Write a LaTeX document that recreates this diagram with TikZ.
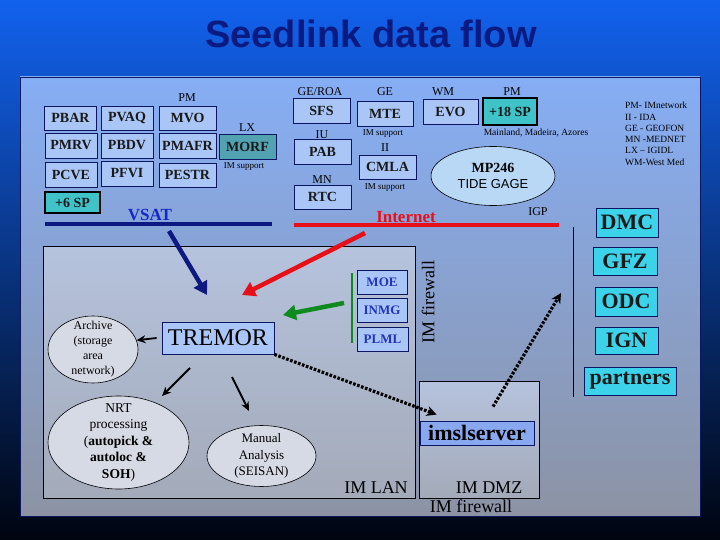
\documentclass[tikz,border=0pt]{standalone}
\usepackage{fontspec}
\setmainfont{Liberation Serif}
\setsansfont{Liberation Sans}
\usetikzlibrary{arrows.meta,shapes.geometric}
\definecolor{SlideTop}{HTML}{1262EE}
\definecolor{SlideMid}{HTML}{0838A8}
\definecolor{SlideBottom}{HTML}{00040F}
\definecolor{PanelTop}{HTML}{86AEF5}
\definecolor{PanelBottom}{HTML}{8C93A4}
\definecolor{LanTop}{HTML}{B6C3DD}
\definecolor{LanBottom}{HTML}{A3AAB9}
\definecolor{BoxBlue}{HTML}{A9C6F6}
\definecolor{MorfTeal}{HTML}{52A2B2}
\definecolor{SpTeal}{HTML}{3FC3C8}
\definecolor{PartCyan}{HTML}{3CD3EA}
\definecolor{ImslBlue}{HTML}{88A8F0}
\definecolor{TideBlue}{HTML}{B8D8F6}
\definecolor{OvalGray}{HTML}{D6DAE4}
\definecolor{MoeInk}{HTML}{2333B8}
\definecolor{Navy}{HTML}{0B1560}
\definecolor{VsatNavy}{HTML}{0D1880}
\definecolor{VsatText}{HTML}{1428C8}
\definecolor{NetRed}{HTML}{E81018}
\definecolor{LinkGreen}{HTML}{0E8A1E}
\definecolor{TitleInk}{HTML}{0A1A80}

\begin{document}
\begin{tikzpicture}[x=1pt,y=-1pt,
  stnbox/.style={draw=Navy,line width=0.8pt,fill=BoxBlue,inner sep=0pt,text=black!90,font=\fontsize{14}{16}\selectfont\bfseries},
  spbox/.style={stnbox,draw=black,line width=2.4pt,fill=SpTeal},
  tag/.style={inner sep=0pt,font=\fontsize{12}{13}\selectfont},
  note/.style={inner sep=0pt,font=\fontsize{9}{10}\selectfont},
  lanbox/.style={draw=Navy,line width=0.8pt,fill=BoxBlue,inner sep=0pt,text=MoeInk,font=\fontsize{13}{15}\selectfont\bfseries},
  partbox/.style={draw=Navy,line width=0.8pt,fill=PartCyan,inner sep=0pt,text=black!90,font=\fontsize{22}{24}\selectfont\bfseries},
  oval/.style={ellipse,draw=black,line width=0.6pt,fill=OvalGray,inner sep=0pt},
  ovaltext/.style={align=center,inner sep=0pt},
  zone/.style={draw=black,line width=0.8pt,top color=LanTop,bottom color=LanBottom},
  fatarrow/.style={line width=4.5pt,-{Triangle[length=13pt,width=15pt]}},
  thinarrow/.style={line width=1.8pt,-{Stealth[length=9pt,width=8pt]}},
  dotarrow/.style={line width=3.2pt,dash pattern=on 2.6pt off 1.6pt,-{Stealth[length=10pt,width=10pt]}}]
\useasboundingbox (0,0) rectangle (720,540);
\shade[top color=SlideTop,middle color=SlideMid,bottom color=SlideBottom] (0,0) rectangle (720,540);
\shadedraw[top color=PanelTop,bottom color=PanelBottom,draw=Navy,line width=0.8pt] (20,77) rectangle (700,516);
\node[anchor=base,text=TitleInk,font=\sffamily\bfseries\fontsize{38}{42}\selectfont] (title) at (371,48) {Seedlink data flow};

% zones
\shadedraw[zone] (43,246) rectangle (415,498);
\shadedraw[zone] (419,381) rectangle (539,498);
\node[anchor=base,inner sep=0pt,font=\fontsize{18}{20}\selectfont] (lanlabel) at (376,493) {IM LAN};
\node[anchor=base,inner sep=0pt,font=\fontsize{18}{20}\selectfont] (dmzlabel) at (489,493) {IM DMZ};
\node[anchor=base,inner sep=0pt,font=\fontsize{18}{20}\selectfont] (fwbottom) at (471,512) {IM firewall};
\node[rotate=90,inner sep=0pt,font=\fontsize{18}{20}\selectfont] (fwside) at (428,302) {IM firewall};

% left stations
\node[tag] (pmleft) at (187,98) {PM};
\node[stnbox,minimum width=52pt,minimum height=24pt] (pbar) at (70.5,118) {PBAR};
\node[stnbox,minimum width=52pt,minimum height=24pt] (pvaq) at (127,118) {PVAQ};
\node[stnbox,minimum width=57pt,minimum height=24pt] (mvo) at (187.5,118) {MVO};
\node[stnbox,minimum width=52pt,minimum height=25pt] (pmrv) at (71,145.5) {PMRV};
\node[stnbox,minimum width=52pt,minimum height=25pt] (pbdv) at (127,145.5) {PBDV};
\node[stnbox,minimum width=57pt,minimum height=25pt] (pmafr) at (187.5,145.5) {PMAFR};
\node[tag] (lx) at (247,128) {LX};
\node[stnbox,fill=MorfTeal,minimum width=57pt,minimum height=25pt] (morf) at (247.5,146.5) {MORF};
\node[note] (morfnote) at (244,167) {IM support};
\node[stnbox,minimum width=52pt,minimum height=25pt] (pcve) at (71,174.5) {PCVE};
\node[stnbox,minimum width=52pt,minimum height=25pt] (pfvi) at (127,173.5) {PFVI};
\node[stnbox,minimum width=57pt,minimum height=24pt] (pestr) at (187.5,175) {PESTR};
\node[spbox,minimum width=55pt,minimum height=21pt] (sixsp) at (72.5,202.5) {+6 SP};

% middle stations
\node[tag] (geroa) at (320,92) {GE/ROA};
\node[stnbox,minimum width=57pt,minimum height=25pt] (sfs) at (321.5,110.5) {SFS};
\node[tag] (iu) at (322,135) {IU};
\node[stnbox,minimum width=57pt,minimum height=25pt] (pab) at (322.5,151.5) {PAB};
\node[tag] (mn) at (322,180) {MN};
\node[stnbox,minimum width=57pt,minimum height=24pt] (rtc) at (322.5,197) {RTC};
\node[tag] (ge) at (385,92) {GE};
\node[stnbox,minimum width=56pt,minimum height=25pt] (mte) at (385,113.5) {MTE};
\node[note] (mtenote) at (383,134) {IM support};
\node[tag] (ii) at (385,148) {II};
\node[stnbox,minimum width=57pt,minimum height=24pt] (cmla) at (387.5,167) {CMLA};
\node[note] (cmlanote) at (385,188) {IM support};
\node[tag] (wm) at (443,92) {WM};
\node[stnbox,minimum width=55pt,minimum height=25pt] (evo) at (450.5,111.5) {EVO};
\node[tag] (pmright) at (512,92) {PM};
\node[spbox,minimum width=54pt,minimum height=27pt] (eighteensp) at (510,111.5) {+18 SP};
\node[note,font=\fontsize{9.5}{10}\selectfont] (islands) at (536,133) {Mainland, Madeira, Azores};
\node[oval,fill=TideBlue,minimum width=124pt,minimum height=59pt,align=center,font=\fontsize{14}{16}\selectfont] (tide) at (493,176) {\textbf{MP246}\\{\sffamily\fontsize{13}{15}\selectfont TIDE GAGE}};
\node[tag] (igp) at (538,212) {IGP};

% legend
\node[anchor=north west,align=left,inner sep=0pt,font=\fontsize{9.5}{11.3}\selectfont] (legend) at (625,102) {PM- IMnetwork\\II - IDA\\GE - GEOFON\\MN -MEDNET\\LX -- IGIDL\\WM-West Med};

% links
\node[inner sep=0pt,text=VsatText,font=\fontsize{17}{19}\selectfont\bfseries] (vsat) at (150,215) {VSAT};
\draw[VsatNavy,line width=4.5pt] (45,224) -- (272,224);
\node[inner sep=0pt,text=NetRed,font=\fontsize{17}{19}\selectfont\bfseries] (internet) at (406,217) {Internet};
\draw[NetRed,line width=4.5pt] (294,225) -- (559,225);
\draw[black,line width=0.8pt] (573,227) -- (573,397);

% partners
\node[partbox,minimum width=62pt,minimum height=29pt] (dmc) at (627,222.5) {DMC};
\node[partbox,minimum width=64pt,minimum height=28pt] (gfz) at (625,261) {GFZ};
\node[partbox,minimum width=62pt,minimum height=29pt] (odc) at (626,301.5) {ODC};
\node[partbox,minimum width=63pt,minimum height=27pt] (ign) at (626.5,340.5) {IGN};
\node[partbox,minimum width=92pt,minimum height=28pt] (partners) at (630,381) {partners};

% IM LAN
\node[lanbox,minimum width=50pt,minimum height=24pt] (moe) at (382,282) {MOE};
\node[lanbox,minimum width=50pt,minimum height=24pt] (inmg) at (382,310) {INMG};
\node[lanbox,minimum width=51pt,minimum height=24pt] (plml) at (382.5,339) {PLML};
\draw[LinkGreen,line width=2.5pt] (352,273) -- (352,343);
\node[draw=Navy,line width=0.8pt,fill=BoxBlue,inner sep=0pt,minimum width=112pt,minimum height=32pt,font=\fontsize{24}{26}\selectfont] (tremor) at (218,338) {TREMOR};
\node[oval,minimum width=90pt,minimum height=67pt,label={[ovaltext,font=\fontsize{12}{15}\selectfont]center:Archive\\(storage\\area\\network)}] (archive) at (93,349.5) {};
\node[oval,minimum width=141pt,minimum height=93pt,label={[ovaltext,font=\fontsize{13.5}{16.5}\selectfont]center:NRT\\processing\\(\textbf{autopick \&}\\\textbf{autoloc \&}\\\textbf{SOH})}] (nrt) at (118.5,442.5) {};
\node[oval,minimum width=109pt,minimum height=61pt,label={[ovaltext,font=\fontsize{13}{16.5}\selectfont]center:Manual\\Analysis\\(SEISAN)}] (manual) at (261.5,456) {};
\node[draw=Navy,line width=0.8pt,fill=ImslBlue,inner sep=0pt,minimum width=114pt,minimum height=24pt,font=\fontsize{22}{24}\selectfont\bfseries] (imsl) at (477,433) {imslserver};

% arrows
\coordinate (vsattail) at (169,231);
\coordinate (vsathead) at (207,295);
\coordinate (nettail) at (365,233);
\coordinate (nethead) at (242,295);
\coordinate (lantail) at (344,303);
\coordinate (lanhead) at (283,315);
\coordinate (nrttail) at (190,368);
\coordinate (nrthead) at (162,396);
\coordinate (manualtail) at (232,377);
\coordinate (manualhead) at (249,411);
\coordinate (igphead) at (561,293);
\draw[fatarrow,VsatNavy] (vsattail) -- (vsathead);
\draw[fatarrow,NetRed] (nettail) -- (nethead);
\draw[fatarrow,LinkGreen] (lantail) -- (lanhead);
\draw[thinarrow] ([xshift=-5pt]tremor.west) -- (archive.12);
\draw[thinarrow] (nrttail) -- (nrthead);
\draw[thinarrow] (manualtail) -- (manualhead);
\draw[dotarrow] (tremor.south east) -- ([xshift=17pt,yshift=6pt]imsl.north west);
\draw[dotarrow] ([xshift=16pt,yshift=14pt]imsl.north) -- (igphead);
\end{tikzpicture}
\end{document}
